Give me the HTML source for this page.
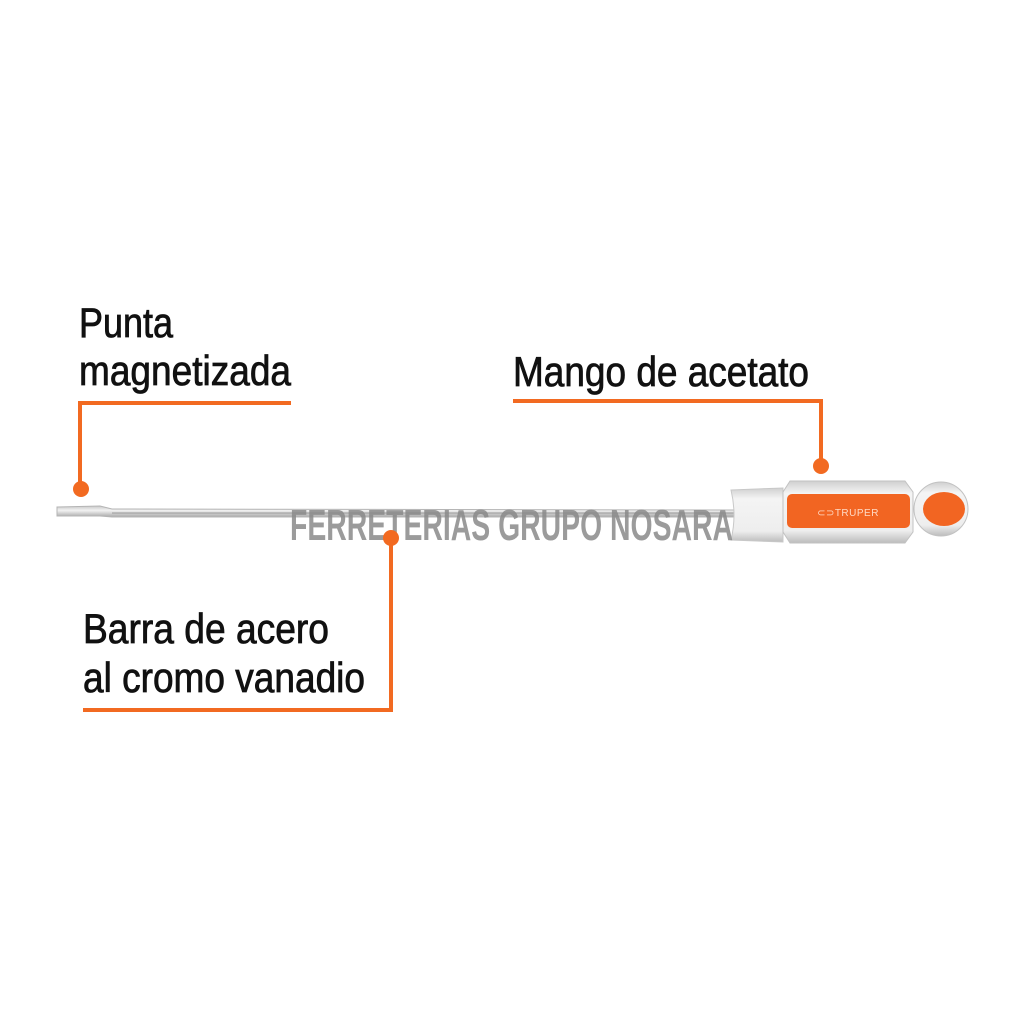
<!DOCTYPE html>
<html><head><meta charset="utf-8"><style>
html,body{margin:0;padding:0;background:#fff;}
svg{display:block}
text{font-family:"Liberation Sans",sans-serif;}
</style></head><body>
<svg width="1024" height="1024" viewBox="0 0 1024 1024" xmlns="http://www.w3.org/2000/svg">
<rect width="1024" height="1024" fill="#fff"/>
<defs>
<linearGradient id="steel" x1="0" y1="0" x2="0" y2="1">
<stop offset="0" stop-color="#c9c9c9"/><stop offset="0.4" stop-color="#f2f2f2"/><stop offset="1" stop-color="#a8a8a8"/>
</linearGradient>
<linearGradient id="clear" x1="0" y1="0" x2="0" y2="1">
<stop offset="0" stop-color="#d0d0d0"/><stop offset="0.2" stop-color="#f4f4f4"/><stop offset="0.8" stop-color="#eeeeee"/><stop offset="1" stop-color="#bcbcbc"/>
</linearGradient>
</defs>
<!-- shaft -->
<path d="M57,507 L100,506 L112,509 L735,510 L735,517 L112,517 L100,516 L57,516 Z" fill="url(#steel)" stroke="#b5b5b5" stroke-width="1"/>
<line x1="112" y1="513" x2="735" y2="513" stroke="#9a9a9a" stroke-width="1"/>
<!-- ferrule -->
<path d="M731,490 L783,488 L783,542 L731,540 Q737,515 731,490 Z" fill="url(#clear)" stroke="#c8c8c8"/>
<!-- handle body -->
<path d="M790,481 L905,481 L913,492 L913,532 L905,543 L790,543 L783,532 L783,492 Z" fill="url(#clear)" stroke="#c2c2c2"/>
<rect x="787" y="494" width="123" height="34" rx="5" fill="#f26522"/>
<text x="848" y="516" font-size="10" fill="#ffd9c4" text-anchor="middle" letter-spacing="0.5">⊂⊃TRUPER</text>
<!-- ball -->
<circle cx="941" cy="509" r="27" fill="url(#clear)" stroke="#c2c2c2"/>
<ellipse cx="944" cy="509" rx="21" ry="17" fill="#f26522"/>
<!-- watermark -->
<text x="290" y="540" font-size="44" font-weight="bold" fill="#8a8a8a" fill-opacity="0.85" textLength="443" lengthAdjust="spacingAndGlyphs">FERRETERIAS GRUPO NOSARA</text>
<!-- leaders -->
<g stroke="#f26a21" stroke-width="4" fill="none">
<polyline points="291,403 80,403 80,489"/>
<polyline points="513,401 821,401 821,466"/>
<polyline points="391,538 391,710 83,710"/>
</g>
<g fill="#f26a21">
<circle cx="81" cy="489" r="8"/>
<circle cx="821" cy="466" r="8"/>
<circle cx="391" cy="538" r="8"/>
</g>
<!-- labels -->
<g font-size="42" fill="#111" stroke="#111" stroke-width="0.8">
<text x="79" y="337" textLength="94" lengthAdjust="spacingAndGlyphs">Punta</text>
<text x="79" y="385" textLength="212" lengthAdjust="spacingAndGlyphs">magnetizada</text>
<text x="513" y="386" textLength="296" lengthAdjust="spacingAndGlyphs">Mango de acetato</text>
<text x="83" y="643" textLength="246" lengthAdjust="spacingAndGlyphs">Barra de acero</text>
<text x="83" y="692" textLength="282" lengthAdjust="spacingAndGlyphs">al cromo vanadio</text>
</g>
</svg>
</body></html>
